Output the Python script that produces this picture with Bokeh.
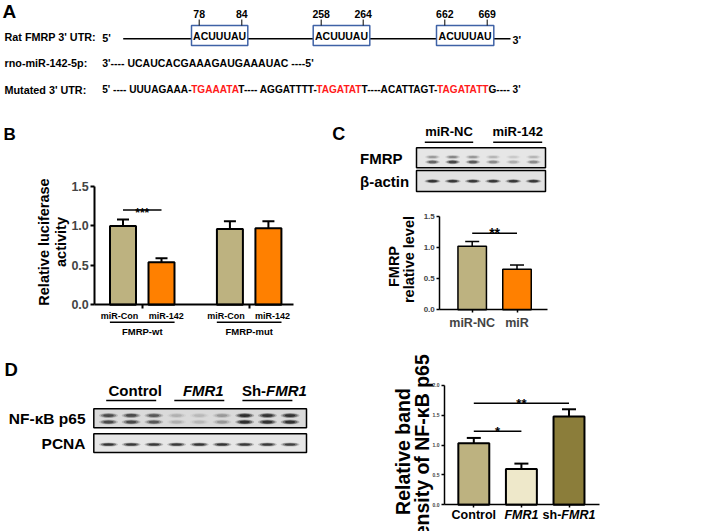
from math import pi
from bokeh.plotting import figure
from bokeh.models import (Range1d, LinearAxis, FixedTicker, PrintfTickFormatter,
                          Whisker, TeeHead, ColumnDataSource)
from bokeh.embed import file_html
from bokeh.resources import INLINE
from bokeh.core.properties import value

FONT = "Liberation Sans"
TAN = "#BDB280"
ORANGE = "#FF8000"
CREAM = "#EEE8CA"
OLIVE = "#8B7D3A"
RED = "#FF1A1A"

# ---------------- data ----------------
# Panel A
row_labels = ["Rat FMRP 3' UTR:", "rno-miR-142-5p:", "Mutated 3' UTR:"]
site_start = ["78", "258", "662"]
site_end = ["84", "264", "669"]
site_motif = "ACUUUAU"
mir_seq = "3'---- UCAUCACGAAAGAUGAAAUAC ----5'"
mut_segments = ["5' ---- UUUAGAAA-", "TGAAATA", "T---- AGGATTTT-", "TAGATAT",
                "T----ACATTAGT-", "TAGATATT", "G---- 3'"]
mut_red = [False, True, False, True, False, True, False]

# Panel B
b_groups = ["FMRP-wt", "FMRP-mut"]
b_treatments = ["miR-Con", "miR-142"]
b_values = [1.00, 0.54, 0.96, 0.97]
b_errors = [0.08, 0.05, 0.10, 0.09]
b_sig_label = "***"
b_sig_y = 1.20

# Panel C
c_lane_groups = ["miR-NC", "miR-142"]
fmrp_band = [0.55, 0.75, 0.60, 0.35, 0.20, 0.35]
actin_band = [0.90, 0.85, 0.85, 0.85, 0.85, 0.85]
c_categories = ["miR-NC", "miR"]
c_values = [1.02, 0.65]
c_errors = [0.08, 0.07]
c_sig_label = "**"
c_sig_y = 1.23

# Panel D
d_lane_groups = ["Control", "FMR1", "Sh-FMR1"]
p65_band = [0.70, 0.70, 0.60, 0.15, 0.12, 0.25, 0.95, 0.90, 0.90]
pcna_band = [0.90, 0.85, 0.85, 0.85, 0.90, 0.90, 0.85, 0.85, 0.80]
d_categories = ["Control", "FMR1", "sh-FMR1"]
d_values = [1.03, 0.60, 1.48]
d_errors = [0.09, 0.09, 0.12]
d_sig = [(0, 1, 1.23, "*"), (0, 2, 1.70, "**")]   # (from category, to category, height, label)

# bold sans advance widths (em) and kerning pairs used to butt coloured pieces together
CW = {' ': 0.278, "'": 0.238, '-': 0.333, '3': 0.556, '5': 0.556, 'A': 0.722,
      'C': 0.722, 'G': 0.778, 'T': 0.611, 'U': 0.722}
KERN = {"AT": -0.074, "TA": -0.074, "T-": -0.074, " A": -0.055, "' ": -0.037}


def seg_width(s, size):
    adv = sum(CW[c] for c in s) + sum(KERN.get(s[i:i + 2], 0) for i in range(len(s) - 1))
    return adv * size


# one canvas in page pixels (x right, y down)
X0, X1, Y0, Y1 = 0, 709, 0, 531
p = figure(width=X1 - X0, height=Y1 - Y0, x_range=Range1d(X0, X1), y_range=Range1d(Y1, Y0),
           x_axis_type=None, y_axis_type=None, toolbar_location=None,
           output_backend="svg", min_border=0, outline_line_color=None)

# chart coordinate systems: (zero x pixel, px per category, zero y pixel, px per unit)
charts = {
    "b": (122.5, 38.5, 304.3, 78.9),
    "c": (471.7, 44.8, 309.3, 62.2),
    "d": (473.3, 47.6, 504.3, 59.7),
}
p.extra_x_ranges = {k: Range1d((X0 - x0) / ux, (X1 - x0) / ux) for k, (x0, ux, y0, uy) in charts.items()}
p.extra_y_ranges = {k: Range1d((y0 - Y1) / uy, (y0 - Y0) / uy) for k, (x0, ux, y0, uy) in charts.items()}


def txt(x, y, s, size, style="bold", color="black", align="left", baseline="middle",
        xo=0, yo=0, angle=0, rn=None):
    kw = {}
    if rn:
        kw = dict(x_range_name=rn, y_range_name=rn)
    p.text(x=[x], y=[y], text=[s], x_offset=xo, y_offset=yo, angle=angle,
           text_font=value(FONT), text_font_size=f"{size}px",
           text_font_style=style, text_color=color, text_align=align,
           text_baseline=baseline, **kw)


def y_axis(rn, xloc, ticks, size, lw, tick_out):
    ax = LinearAxis(x_range_name=rn, y_range_name=rn, fixed_location=xloc,
                    ticker=FixedTicker(ticks=ticks),
                    formatter=PrintfTickFormatter(format="%.1f"),
                    bounds=(ticks[0], ticks[-1]), axis_line_width=lw,
                    major_tick_line_width=lw, major_tick_in=0, major_tick_out=tick_out,
                    minor_tick_line_color=None, major_label_text_font=FONT,
                    major_label_text_font_style="bold",
                    major_label_text_font_size=f"{size}px", major_label_standoff=2)
    p.add_layout(ax, "left")


def x_axis(rn, bounds, ticks, labels, size, lw, tick_out):
    ax = LinearAxis(x_range_name=rn, y_range_name=rn, fixed_location=0,
                    ticker=FixedTicker(ticks=ticks),
                    major_label_overrides={t: s for t, s in zip(ticks, labels)},
                    bounds=bounds, axis_line_width=lw, major_tick_line_width=lw,
                    major_tick_in=0, major_tick_out=tick_out, minor_tick_line_color=None,
                    major_label_text_font=FONT, major_label_text_font_style="bold",
                    major_label_text_font_size=f"{size}px", major_label_standoff=3)
    p.add_layout(ax, "below")


def bars(rn, pos, vals, errs, colors, width, lw, cap):
    src = ColumnDataSource(dict(x=pos, top=vals, upper=[v + e for v, e in zip(vals, errs)],
                                color=colors))
    p.add_layout(Whisker(base="x", lower="top", upper="upper", source=src,
                         line_width=lw, lower_head=None,
                         upper_head=TeeHead(size=cap, line_width=lw),
                         x_range_name=rn, y_range_name=rn))
    p.vbar(x="x", top="top", width=width, source=src, fill_color="color",
           line_color="black", line_width=lw, x_range_name=rn, y_range_name=rn)


def px_to_x(rn, px):
    x0, ux, _, _ = charts[rn]
    return (px - x0) / ux


def bands(xs, y, intens, w, h):
    n = len(xs)
    for sc, a in [(1.0, 0.25), (0.8, 0.45), (0.55, 0.75)]:
        p.ellipse(x=xs, y=[y] * n, width=w * sc, height=h * sc,
                  fill_color="#151515", fill_alpha=[a * i for i in intens],
                  line_color=None)


# ---------------- Panel A ----------------
txt(2, 10.5, "A", 19)
p.text(x=[4, 4, 4], y=[36.5, 62.7, 89.3], text=row_labels,
       text_font=value(FONT), text_font_size="10.8px", text_font_style="bold",
       text_color="black", text_align="left", text_baseline="middle")
txt(101.7, 37, "5'", 10.8)
p.segment(x0=[122.7], y0=[38.3], x1=[510], y1=[38.3], line_color="black", line_width=1.5)
box_l = [191, 312.7, 436]
box_r = [247.3, 369.3, 493.3]
p.quad(left=box_l, right=box_r, top=[25] * 3, bottom=[45] * 3,
       fill_color="white", line_color="#3F62A6", line_width=1.5)
p.text(x=[(l + r) / 2 for l, r in zip(box_l, box_r)], y=[35] * 3, text=[site_motif] * 3,
       text_font=value(FONT), text_font_size="10.5px", text_font_style="bold",
       text_align="center", text_baseline="middle")
tick_x = [198.7, 241.3, 320.7, 362.7, 444.3, 486.7]
p.segment(x0=tick_x, y0=[19] * 6, x1=tick_x, y1=[25] * 6, line_color="black", line_width=1)
labels_num = [v for pair in zip(site_start, site_end) for v in pair]
p.text(x=tick_x, y=[13.5] * 6, text=labels_num,
       text_font=value(FONT), text_font_size="10.5px", text_font_style="bold",
       text_align="center", text_baseline="middle")
txt(512, 39, "3'", 10.8)
txt(101.7, 62.7, mir_seq, 10.5)
MUT_SIZE = 10.1
xcur = 101.7
for i, (seg, red) in enumerate(zip(mut_segments, mut_red)):
    txt(xcur, 89.3, seg, MUT_SIZE, color=RED if red else "black")
    xcur += seg_width(seg, MUT_SIZE)
    if i + 1 < len(mut_segments):
        xcur += KERN.get(seg[-1] + mut_segments[i + 1][0], 0) * MUT_SIZE

# ---------------- Panel B ----------------
B_GAP = 0.777
b_pos = [gi * (len(b_treatments) + B_GAP) + ti
         for gi in range(len(b_groups)) for ti in range(len(b_treatments))]
b_gpos = [(b_pos[2 * g] + b_pos[2 * g + 1]) / 2 for g in range(len(b_groups))]
txt(3, 134, "B", 17)
y_axis("b", px_to_x("b", 94.3), [0, 0.5, 1.0, 1.5], 12.5, 2, 4)
x_axis("b", (px_to_x("b", 94.3), px_to_x("b", 293)), b_gpos, ["", ""], 9, 2, 4)
bars("b", b_pos, b_values, b_errors, [TAN, ORANGE] * 2, 0.675, 2, 12)
p.text(x=b_pos, y=[0] * 4, text=b_treatments * 2, y_offset=10.7,
       x_offset=[-3.6, 4.8, -3.8, 4.2],
       text_font=value(FONT), text_font_size="9px", text_font_style="bold",
       text_align="center", text_baseline="middle", x_range_name="b", y_range_name="b")
p.rect(x=b_gpos, y=[-0.22] * 2, width=1.68, height=1.5, height_units="screen",
       fill_color="black", line_color=None, x_range_name="b", y_range_name="b")
p.text(x=b_gpos, y=[0] * 2, text=b_groups, y_offset=27,
       text_font=value(FONT), text_font_size="9.5px", text_font_style="bold",
       text_align="center", text_baseline="middle", x_range_name="b", y_range_name="b")
p.segment(x0=[b_pos[0]], x1=[b_pos[1]], y0=[b_sig_y], y1=[b_sig_y],
          line_color="black", line_width=1.5, x_range_name="b", y_range_name="b")
txt(b_gpos[0], b_sig_y, b_sig_label, 12, baseline="alphabetic", align="center", yo=3, rn="b")
txt(43.3, 241.5, "Relative luciferase", 14.5, align="center", angle=pi / 2)
txt(60.5, 241.5, "activity", 14.5, align="center", angle=pi / 2)

# ---------------- Panel C ----------------
txt(331.7, 133.5, "C", 18)
c_lbl_x = [448.5, 517.2]
c_ul = [(424.3, 472.7), (492.7, 541.7)]
for x, s in zip(c_lbl_x, c_lane_groups):
    txt(x, 131, s, 13, align="center")
p.segment(x0=[a for a, _ in c_ul], x1=[b for _, b in c_ul], y0=[141.7] * 2,
          y1=[141.7] * 2, line_color="black", line_width=1.5)
p.quad(left=[416, 416], right=[545, 545], top=[147.3, 170], bottom=[167.3, 191],
       fill_color=["#E6E6E6", "#E2E2E2"], line_color="black", line_width=1.5)
c_lane_x = [432 + 20.2 * i for i in range(6)]
bands(c_lane_x, 156.5, [0.5 * v for v in fmrp_band], 15, 4)
bands(c_lane_x, 161.5, fmrp_band, 15, 4.5)
bands(c_lane_x, 180.7, actin_band, 16, 4)
txt(359.5, 158, "FMRP", 15)
txt(359.5, 181, "β-actin", 15)

c_pos = list(range(len(c_categories)))
y_axis("c", px_to_x("c", 439.3), [0, 0.5, 1.0, 1.5], 8, 1.5, 3)
x_axis("c", (px_to_x("c", 439.3), px_to_x("c", 546.7)), c_pos, c_categories, 12.5, 1.5, 3)
bars("c", c_pos, c_values, c_errors, [TAN, ORANGE], 0.636, 1.5, 14)
p.segment(x0=[c_pos[0]], x1=[c_pos[1]], y0=[c_sig_y], y1=[c_sig_y],
          line_color="black", line_width=1.5, x_range_name="c", y_range_name="c")
txt((c_pos[0] + c_pos[1]) / 2, c_sig_y, c_sig_label, 14, baseline="alphabetic", align="center", rn="c")
txt(393, 266, "FMRP", 14.5, align="center", angle=pi / 2)
txt(408.5, 259, "relative level", 14.5, align="center", angle=pi / 2)

# ---------------- Panel D ----------------
txt(4, 368.5, "D", 18.5)
d_lane_x = [108 + 22.7 * i for i in range(9)]
gc = [sum(d_lane_x[3 * g:3 * g + 3]) / 3 for g in range(3)]
p.segment(x0=[c - 25 for c in gc], x1=[c + 25 for c in gc], y0=[400] * 3,
          y1=[400] * 3, line_color="black", line_width=1.5)
txt(gc[0] + 4, 389.5, d_lane_groups[0], 15, align="center")
txt(gc[1] + 4, 389.5, d_lane_groups[1], 15, style="bold italic", align="center")
sh_w = 1.611 * 15
fm_w = 2.722 * 15
sx = gc[2] + 7 - (sh_w + fm_w) / 2
txt(sx, 389.5, "Sh-", 15)
txt(sx + sh_w, 389.5, "FMR1", 15, style="bold italic")
p.quad(left=[93.3, 93.3], right=[306, 306], top=[408.3, 433.3], bottom=[427.3, 452],
       fill_color=["#DADADA", "#E6E6E6"], line_color="black", line_width=1.5)
bands(d_lane_x, 415, p65_band, 19, 5)
bands(d_lane_x, 421.5, p65_band, 19, 5)
bands(d_lane_x, 444, pcna_band, 19, 4)
txt(85, 418, "NF-κB p65", 15.5, align="right")
txt(85, 443, "PCNA", 15.5, align="right")

d_pos = list(range(len(d_categories)))
y_axis("d", px_to_x("d", 444), [0, 0.5, 1.0, 1.5, 2.0], 5, 1.5, 3)
x_axis("d", (px_to_x("d", 444), px_to_x("d", 599)), d_pos, ["", "", ""], 12.5, 1.5, 3)
bars("d", d_pos, d_values, d_errors, [TAN, CREAM, OLIVE], 0.65, 2, 14)
for a, b, y, s in d_sig:
    p.segment(x0=[d_pos[a]], x1=[d_pos[b]], y0=[y], y1=[y], line_color="black",
              line_width=1.5, x_range_name="d", y_range_name="d")
    mid = (d_pos[a] + d_pos[b]) / 2
    txt(mid, y, s, 13, baseline="alphabetic", align="center", rn="d")
txt(d_pos[0], 0, d_categories[0], 12.5, align="center", yo=10.5, rn="d")
txt(d_pos[1], 0, d_categories[1], 12.5, style="bold italic", align="center", yo=10.5, rn="d")
sh2 = 1.5 * 12.5
fm2 = 2.722 * 12.5
off = -(sh2 + fm2) / 2 + sh2
txt(d_pos[2], 0, "sh-", 12.5, align="right", xo=off, yo=10.5, rn="d")
txt(d_pos[2], 0, "FMR1", 12.5, style="bold italic", align="left", xo=off, yo=10.5, rn="d")
txt(402, 451, "Relative band", 19.5, align="center", angle=pi / 2)
txt(421, 454, "intensity of  NF-κB p65", 19.5, align="center", angle=pi / 2)

open("out.html", "w").write(file_html(p, INLINE, "figure"))
